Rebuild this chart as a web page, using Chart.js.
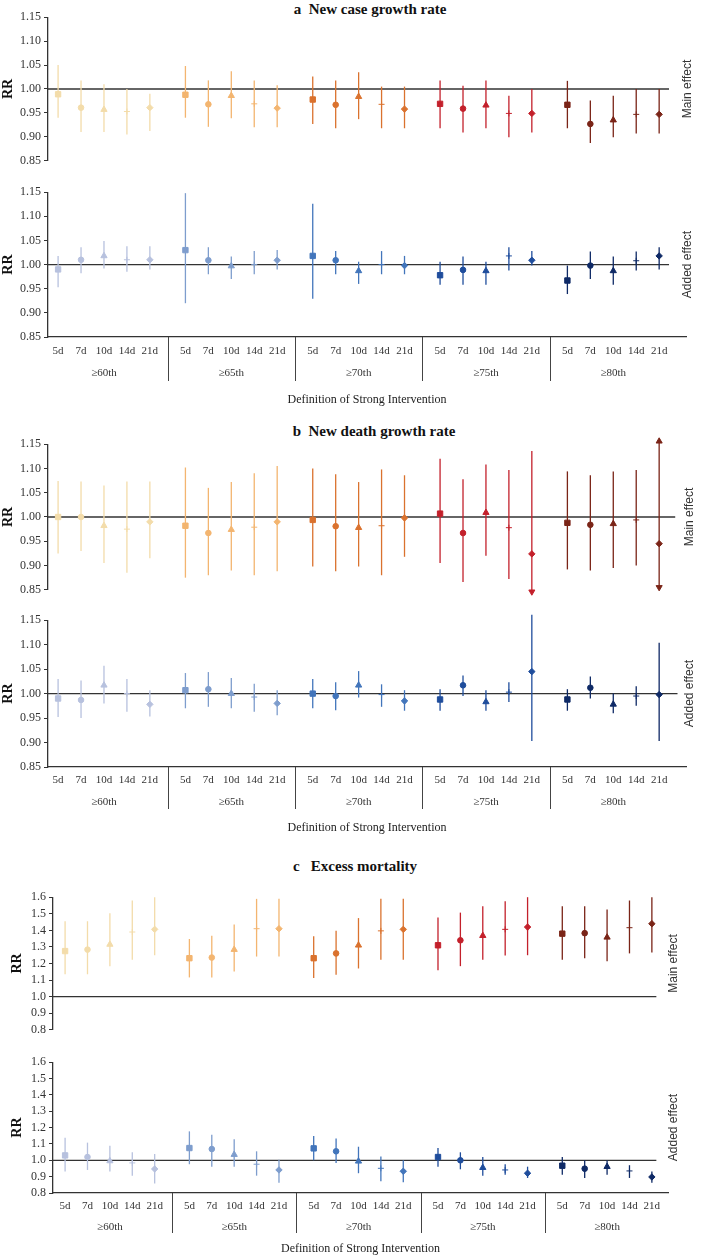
<!DOCTYPE html>
<html>
<head>
<meta charset="utf-8">
<script src="https://cdn.jsdelivr.net/npm/chart.js@4.4.1/dist/chart.umd.min.js"></script>
<style>
  body { margin: 0; background: #fff; }
  #wrap { position: relative; width: 701px; height: 1258px; overflow: hidden; }
  canvas { position: absolute; left: 0; }
  .title { position: absolute; font: bold 15px "Liberation Serif", serif; color: #111;
           white-space: pre; transform: translate(-50%, -50%); }
</style>
</head>
<body>
<div id="wrap">
  <div class="title" style="left:370px;top:9px">a  New case growth rate</div>
  <div class="title" style="left:374px;top:431px">b  New death growth rate</div>
  <div class="title" style="left:355px;top:866px">c   Excess mortality</div>
  <canvas id="aMain" width="701" height="164" style="top:7px"></canvas>
  <canvas id="aAdd" width="701" height="227" style="top:182px"></canvas>
  <canvas id="bMain" width="701" height="166" style="top:434px"></canvas>
  <canvas id="bAdd" width="701" height="227" style="top:610px"></canvas>
  <canvas id="cMain" width="701" height="153" style="top:887px"></canvas>
  <canvas id="cAdd" width="701" height="206" style="top:1052px"></canvas>
</div>
<script>
const thresholds = ['≥60th', '≥65th', '≥70th', '≥75th', '≥80th'];
const durations = ['5d', '7d', '10d', '14d', '21d'];
const growthTicks = [0.85, 0.90, 0.95, 1.00, 1.05, 1.10, 1.15];
const excessTicks = [0.8, 0.9, 1.0, 1.1, 1.2, 1.3, 1.4, 1.5, 1.6];

// a - new case growth rate
const caseMainRR = [0.989, 0.961, 0.957, 0.953, 0.961, 0.988, 0.968, 0.986, 0.969, 0.960, 0.978, 0.967, 0.984, 0.968, 0.958, 0.969, 0.959, 0.966, 0.949, 0.949, 0.967, 0.927, 0.935, 0.947, 0.947];
const caseMainLo = [0.940, 0.910, 0.910, 0.905, 0.912, 0.940, 0.921, 0.939, 0.920, 0.920, 0.927, 0.918, 0.937, 0.918, 0.918, 0.918, 0.909, 0.918, 0.899, 0.909, 0.918, 0.887, 0.899, 0.907, 0.907];
const caseMainHi = [1.050, 1.018, 1.010, 1.000, 0.990, 1.048, 1.018, 1.037, 1.018, 1.008, 1.026, 1.018, 1.035, 1.005, 1.005, 1.018, 1.007, 1.018, 0.986, 1.000, 1.017, 0.976, 0.986, 1.000, 1.000];
const caseAddRR = [0.990, 1.010, 1.018, 1.010, 1.010, 1.030, 1.009, 0.997, 1.000, 1.009, 1.018, 1.009, 0.987, 1.000, 0.998, 0.978, 0.989, 0.987, 1.018, 1.009, 0.967, 0.998, 0.987, 1.008, 1.018];
const caseAddLo = [0.953, 0.982, 0.992, 0.985, 0.990, 0.920, 0.980, 0.970, 0.980, 0.990, 0.929, 0.980, 0.960, 0.980, 0.980, 0.958, 0.958, 0.958, 0.988, 0.998, 0.939, 0.970, 0.958, 0.988, 0.990];
const caseAddHi = [1.018, 1.036, 1.049, 1.038, 1.038, 1.148, 1.036, 1.017, 1.028, 1.030, 1.126, 1.028, 1.006, 1.028, 1.018, 1.006, 1.017, 1.006, 1.036, 1.028, 0.998, 1.027, 1.017, 1.027, 1.036];

// b - new death growth rate
const deathMainRR = [1.000, 1.000, 0.982, 0.975, 0.990, 0.982, 0.967, 0.974, 0.979, 0.990, 0.994, 0.981, 0.978, 0.982, 0.998, 1.007, 0.967, 1.009, 0.978, 0.924, 0.988, 0.984, 0.986, 0.994, 0.945];
const deathMainLo = [0.925, 0.930, 0.905, 0.885, 0.915, 0.875, 0.880, 0.890, 0.880, 0.888, 0.898, 0.888, 0.898, 0.880, 0.918, 0.905, 0.866, 0.920, 0.872, 0.846, 0.892, 0.890, 0.895, 0.900, 0.855];
const deathMainHi = [1.074, 1.073, 1.065, 1.073, 1.073, 1.102, 1.060, 1.072, 1.090, 1.105, 1.100, 1.088, 1.072, 1.098, 1.086, 1.120, 1.078, 1.108, 1.097, 1.136, 1.094, 1.086, 1.094, 1.097, 1.156];
const deathMainArrowUp = [24];
const deathMainArrowDown = [19, 24];
const deathAddRR = [0.990, 0.987, 1.017, 1.000, 0.978, 1.007, 1.009, 1.000, 0.993, 0.980, 1.000, 0.995, 1.017, 0.998, 0.985, 0.988, 1.017, 0.983, 1.003, 1.045, 0.988, 1.012, 0.978, 0.995, 0.998];
const deathAddLo = [0.952, 0.950, 0.980, 0.963, 0.953, 0.970, 0.973, 0.970, 0.963, 0.956, 0.970, 0.966, 0.992, 0.973, 0.965, 0.965, 0.995, 0.965, 0.983, 0.903, 0.965, 0.990, 0.960, 0.975, 0.903];
const deathAddHi = [1.030, 1.027, 1.057, 1.030, 1.007, 1.042, 1.044, 1.032, 1.020, 1.007, 1.030, 1.023, 1.046, 1.019, 1.007, 1.009, 1.037, 1.007, 1.023, 1.161, 1.009, 1.035, 1.000, 1.015, 1.104];
const deathAddArrowUp = [19];

// c - excess mortality
const excessMainRR = [1.275, 1.284, 1.315, 1.390, 1.406, 1.232, 1.236, 1.284, 1.410, 1.410, 1.232, 1.261, 1.310, 1.397, 1.406, 1.310, 1.340, 1.368, 1.406, 1.420, 1.380, 1.383, 1.358, 1.416, 1.440];
const excessMainLo = [1.135, 1.135, 1.184, 1.222, 1.250, 1.116, 1.116, 1.151, 1.242, 1.242, 1.112, 1.132, 1.170, 1.222, 1.222, 1.159, 1.184, 1.222, 1.248, 1.250, 1.222, 1.232, 1.213, 1.261, 1.267];
const excessMainHi = [1.455, 1.455, 1.503, 1.580, 1.600, 1.348, 1.368, 1.435, 1.590, 1.590, 1.364, 1.397, 1.474, 1.590, 1.590, 1.478, 1.507, 1.545, 1.576, 1.600, 1.545, 1.545, 1.526, 1.580, 1.600];
const excessAddRR = [1.030, 1.020, 0.996, 0.984, 0.947, 1.075, 1.069, 1.035, 0.976, 0.941, 1.073, 1.055, 0.994, 0.951, 0.933, 1.020, 1.000, 0.955, 0.941, 0.921, 0.967, 0.949, 0.961, 0.935, 0.898];
const excessAddLo = [0.931, 0.941, 0.931, 0.906, 0.858, 0.976, 0.961, 0.961, 0.906, 0.862, 1.000, 0.984, 0.921, 0.872, 0.866, 0.961, 0.945, 0.906, 0.911, 0.892, 0.911, 0.892, 0.911, 0.892, 0.862];
const excessAddHi = [1.138, 1.108, 1.089, 1.049, 1.039, 1.177, 1.157, 1.128, 1.055, 1.004, 1.148, 1.134, 1.083, 1.024, 1.000, 1.075, 1.049, 1.020, 0.976, 0.961, 1.020, 1.000, 1.000, 0.970, 0.931];

// styling
const GROUP_STEP = 5.55;
const shapes = ['rect', 'circle', 'triangle', 'cross', 'rectRot'];
const shapeRadius = [3.8, 2.8, 3.6, 3, 3.2];
const mainColors = ['#f3dcaa', '#f3b570', '#da722e', '#c3202b', '#7a2417'];
const addColors = ['#b7c1de', '#7e9dcd', '#4275bb', '#1f4d9c', '#0f2a66'];
const serif = '"Liberation Serif", "Times New Roman", serif';

const panelDeco = {
  id: 'panelDeco',
  afterDraw(chart, args, opts) {
    const { ctx, chartArea: a } = chart;
    ctx.save();
    ctx.fillStyle = '#333';
    ctx.font = '12px "Liberation Sans", sans-serif';
    ctx.textAlign = 'center';
    ctx.textBaseline = 'middle';
    ctx.translate(opts.sideX, (a.top + a.bottom) / 2);
    ctx.rotate(-Math.PI / 2);
    ctx.fillText(opts.side, 0, 0);
    ctx.restore();
    if (!opts.groups) return;
    const x = chart.scales.x;
    ctx.save();
    ctx.strokeStyle = '#444';
    ctx.lineWidth = 1;
    ctx.beginPath();
    for (let g = 1; g < thresholds.length; g++) {
      const px = Math.round(x.getPixelForValue(g * GROUP_STEP - (GROUP_STEP - 4) / 2)) + 0.5;
      ctx.moveTo(px, a.bottom);
      ctx.lineTo(px, a.bottom + opts.divLen);
    }
    ctx.stroke();
    ctx.fillStyle = '#333';
    ctx.font = '11px ' + serif;
    ctx.textAlign = 'center';
    ctx.textBaseline = 'middle';
    thresholds.forEach((t, g) => ctx.fillText(t, x.getPixelForValue(g * GROUP_STEP + 2), a.bottom + opts.groupY));
    ctx.restore();
  }
};

function drawPanel(id, o) {
  const xs = o.rr.map((v, i) => Math.floor(i / 5) * GROUP_STEP + i % 5);
  const col = i => o.colors[Math.floor(i / 5)];
  const arrows = [];
  (o.up || []).forEach(i => arrows.push({ x: xs[i], y: o.hi[i], c: col(i), r: 0 }));
  (o.down || []).forEach(i => arrows.push({ x: xs[i], y: o.lo[i], c: col(i), r: 180 }));
  const digits = o.ticks === excessTicks ? 1 : 2;

  const xScale = {
    type: 'linear', min: o.xMin, max: o.xMax, offset: false, display: !!o.added,
    afterBuildTicks: s => { s.ticks = xs.map(v => ({ value: v })); },
    ticks: { callback: (v, i) => durations[i % 5], autoSkip: false, maxRotation: 0,
             font: { family: serif, size: 11 }, color: '#333', padding: o.tickPad || 0 },
    grid: { drawOnChartArea: false, drawTicks: false, offset: false },
    border: { display: true, color: '#333', width: 1.3 },
    title: { display: true, text: 'Definition of Strong Intervention',
             font: { family: serif, size: 12 }, color: '#222', padding: 0 }
  };
  if (o.added) xScale.afterFit = s => { s.height = o.xAxisH; };

  new Chart(document.getElementById(id), {
    type: 'scatter',
    data: {
      datasets: [
        { type: 'line', data: [{ x: o.xMin, y: 1 }, { x: o.refEnd, y: 1 }],
          borderColor: '#333', borderWidth: 1.3, pointRadius: 0, order: 4 },
        { type: 'bar', data: xs.map((x, i) => ({ x, y: [o.lo[i], o.hi[i]] })),
          backgroundColor: xs.map((x, i) => col(i)), barThickness: 1.3, inflateAmount: 0,
          grouped: false, clip: false, order: 3 },
        { data: xs.map((x, i) => ({ x, y: o.rr[i] })),
          pointStyle: xs.map((x, i) => shapes[i % 5]),
          pointRadius: xs.map((x, i) => shapeRadius[i % 5]),
          pointBackgroundColor: xs.map((x, i) => col(i)),
          pointBorderColor: xs.map((x, i) => col(i)),
          pointBorderWidth: 1, order: 2 },
        { data: arrows.map(a => ({ x: a.x, y: a.y })),
          pointStyle: 'triangle', pointRotation: arrows.map(a => a.r), pointRadius: 3.5,
          pointBackgroundColor: arrows.map(a => a.c), pointBorderColor: arrows.map(a => a.c),
          clip: false, order: 1 }
      ]
    },
    options: {
      responsive: false,
      animation: false,
      devicePixelRatio: 1,
      layout: { padding: { left: 0, right: o.padRight, top: 8, bottom: o.added ? 2 : 8 } },
      plugins: {
        legend: { display: false },
        tooltip: { enabled: false },
        panelDeco: { side: o.added ? 'Added effect' : 'Main effect', sideX: o.sideX,
                     groups: !!o.added, divLen: o.divLen, groupY: o.groupY }
      },
      scales: {
        x: xScale,
        y: {
          min: o.ticks[0], max: o.ticks[o.ticks.length - 1], beginAtZero: false,
          afterBuildTicks: s => { s.ticks = o.ticks.map(v => ({ value: v })); },
          afterFit: s => { s.width = o.axisX; },
          ticks: { callback: v => v.toFixed(digits), autoSkip: false,
                   font: { family: serif, size: 12 }, color: '#333', padding: 3 },
          grid: { drawOnChartArea: false, drawTicks: true, tickLength: 4, color: '#333' },
          border: { display: true, color: '#333', width: 1.3 },
          title: { display: true, text: 'RR', font: { family: serif, size: 14, weight: 'bold' },
                   color: '#111', padding: { top: o.rrPad, bottom: 0 } }
        }
      }
    },
    plugins: [panelDeco]
  });
}

const abFrame = { xMin: -0.44, xMax: 27.37, axisX: 48, padRight: 15, ticks: growthTicks, rrPad: 0 };
const cFrame = { xMin: -0.54, xMax: 26.92, axisX: 53, padRight: 33, ticks: excessTicks, rrPad: 9 };

drawPanel('aMain', Object.assign({}, abFrame, { rr: caseMainRR, lo: caseMainLo, hi: caseMainHi,
  colors: mainColors, refEnd: 26.63, sideX: 688 }));
drawPanel('aAdd', Object.assign({}, abFrame, { rr: caseAddRR, lo: caseAddLo, hi: caseAddHi,
  colors: addColors, refEnd: 26.63, sideX: 688, added: true, xAxisH: 70, tickPad: 8, divLen: 44, groupY: 36 }));
drawPanel('bMain', Object.assign({}, abFrame, { rr: deathMainRR, lo: deathMainLo, hi: deathMainHi,
  up: deathMainArrowUp, down: deathMainArrowDown, colors: mainColors, refEnd: 26.9, sideX: 690 }));
drawPanel('bAdd', Object.assign({}, abFrame, { rr: deathAddRR, lo: deathAddLo, hi: deathAddHi,
  up: deathAddArrowUp, colors: addColors, refEnd: 27.0, sideX: 690, added: true, xAxisH: 68, tickPad: 7, divLen: 42, groupY: 35 }));
drawPanel('cMain', Object.assign({}, cFrame, { rr: excessMainRR, lo: excessMainLo, hi: excessMainHi,
  colors: mainColors, refEnd: 26.4, sideX: 674 }));
drawPanel('cAdd', Object.assign({}, cFrame, { rr: excessAddRR, lo: excessAddLo, hi: excessAddHi,
  colors: addColors, refEnd: 26.4, sideX: 674, added: true, xAxisH: 63, tickPad: 7, divLen: 40, groupY: 34 }));
</script>
</body>
</html>
